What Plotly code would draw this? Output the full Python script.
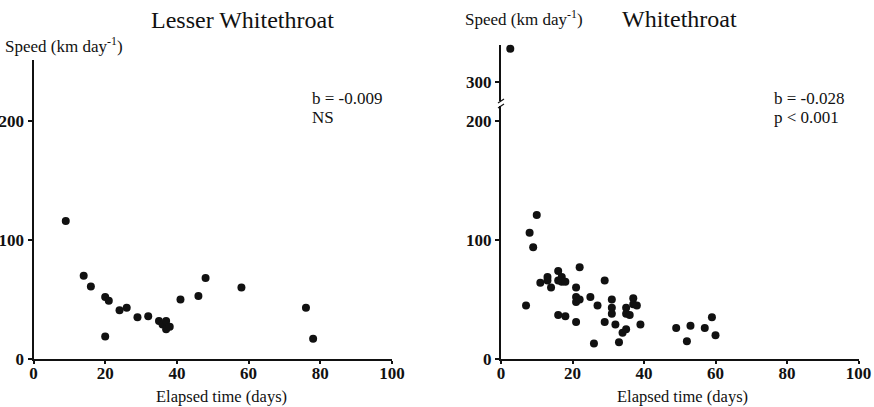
import plotly.graph_objects as go

# ---- data ----
lesser_days = [9, 14, 16, 20, 21, 20, 24, 26, 29, 32, 35, 36, 37, 37, 38, 41, 46, 48, 58, 76, 78]
lesser_speed = [116, 70, 61, 52, 49, 19, 41, 43, 35, 36, 32, 29, 32, 25, 27, 50, 53, 68, 60, 43, 17]

white_days = [7, 8, 9, 10, 11, 13, 13, 14, 16, 16, 17, 17, 18, 16, 18, 21, 21, 21, 22, 22, 21,
              25, 27, 26, 29, 29, 31, 31, 31, 32, 33, 34, 35, 35, 35, 36, 37, 37, 38, 39,
              49, 52, 53, 57, 59, 60]
white_speed = [45, 106, 94, 121, 64, 69, 66, 60, 74, 66, 69, 65, 65, 37, 36, 60, 52, 48, 50, 77, 31,
               52, 45, 13, 66, 31, 50, 43, 38, 29, 14, 22, 25, 43, 38, 37, 51, 46, 45, 29,
               26, 15, 28, 26, 35, 20]
white_outlier_days = [2.6]
white_outlier_speed = [328]

x_ticks = [0, 20, 40, 60, 80, 100]
y_ticks = [0, 100, 200]
y_ticks_upper = [300]

W, H = 874, 407
def px(x):
    return x / W
def py(y):
    return (H - y) / H

FONT = "Liberation Serif, Times New Roman, serif"
black = "#111111"

fig = go.Figure()
mk = dict(color=black, size=8)
fig.add_trace(go.Scatter(x=lesser_days, y=lesser_speed, mode="markers", marker=mk,
                         xaxis="x", yaxis="y", showlegend=False))
fig.add_trace(go.Scatter(x=white_days, y=white_speed, mode="markers", marker=mk,
                         xaxis="x2", yaxis="y2", showlegend=False))
fig.add_trace(go.Scatter(x=white_outlier_days, y=white_outlier_speed, mode="markers", marker=mk,
                         xaxis="x2", yaxis="y3", showlegend=False, cliponaxis=False))

tickfont = dict(family=FONT, size=17, color=black, weight="bold")
common_x = dict(range=[0, 100], tickvals=x_ticks, showgrid=False, zeroline=False,
                showline=True, linecolor=black, linewidth=2, ticks="outside",
                ticklen=3, tickwidth=1.5, tickcolor=black, tickfont=tickfont,
                ticklabelstandoff=-5, fixedrange=True, automargin=False)
common_y = dict(showgrid=False, zeroline=False, showline=True, linecolor=black, linewidth=2,
                ticks="outside", ticklen=4, tickwidth=1.5, tickcolor=black, tickfont=tickfont,
                fixedrange=True, automargin=False)

yb = 359      # x-axis pixel row
ppu = 1.19    # pixels per unit on speed axes

fig.update_layout(
    width=W, height=H, margin=dict(l=0, r=0, t=0, b=0, autoexpand=False),
    paper_bgcolor="white", plot_bgcolor="white",
    font=dict(family=FONT, color=black),
    xaxis=dict(domain=[px(33.5), px(392)], anchor="y", **common_x),
    yaxis=dict(domain=[py(yb), py(60)], range=[0, (yb - 60) / ppu], tickvals=y_ticks,
               anchor="x", **common_y),
    xaxis2=dict(domain=[px(501), px(858.5)], anchor="y2", **common_x),
    yaxis2=dict(domain=[py(yb), py(104)], range=[0, (yb - 104) / ppu], tickvals=y_ticks,
                anchor="x2", **common_y),
    yaxis3=dict(domain=[py(104), py(45)], range=[300 - (104 - 82) / ppu, 300 + (82 - 45) / ppu],
                tickvals=y_ticks_upper, anchor="x2", **common_y),
)

# axis break marks on the right y axis
ax = 501
fig.add_shape(type="rect", xref="paper", yref="paper", x0=px(ax - 3), x1=px(ax + 3),
              y0=py(106), y1=py(101), fillcolor="white", line=dict(width=0))
fig.add_shape(type="line", xref="paper", yref="paper", x0=px(ax - 3), y0=py(108),
              x1=px(ax + 3), y1=py(104), line=dict(color=black, width=1.2))
fig.add_shape(type="line", xref="paper", yref="paper", x0=px(ax - 3), y0=py(103),
              x1=px(ax + 3), y1=py(99), line=dict(color=black, width=1.2))

def ann(text, x, y, size, xanchor="left"):
    fig.add_annotation(text=text, x=px(x), y=py(y), xref="paper", yref="paper",
                       showarrow=False, xanchor=xanchor, yanchor="middle",
                       font=dict(family=FONT, size=size, color=black))

ann("Lesser Whitethroat", 242, 20, 24, "center")
ann("Whitethroat", 679, 19, 24, "center")
ann("Speed (km day<sup>-1</sup>)", 3, 45, 17)
ann("Speed (km day<sup>-1</sup>)", 463, 18, 17)
ann("b = -0.009", 310, 98, 17)
ann("NS", 310, 117, 17)
ann("b = -0.028", 772, 98, 17)
ann("p &lt; 0.001", 772, 117, 17)
ann("Elapsed time (days)", 221, 396, 16.5, "center")
ann("Elapsed time (days)", 682, 396, 16.5, "center")

fig.write_html("out.html")
